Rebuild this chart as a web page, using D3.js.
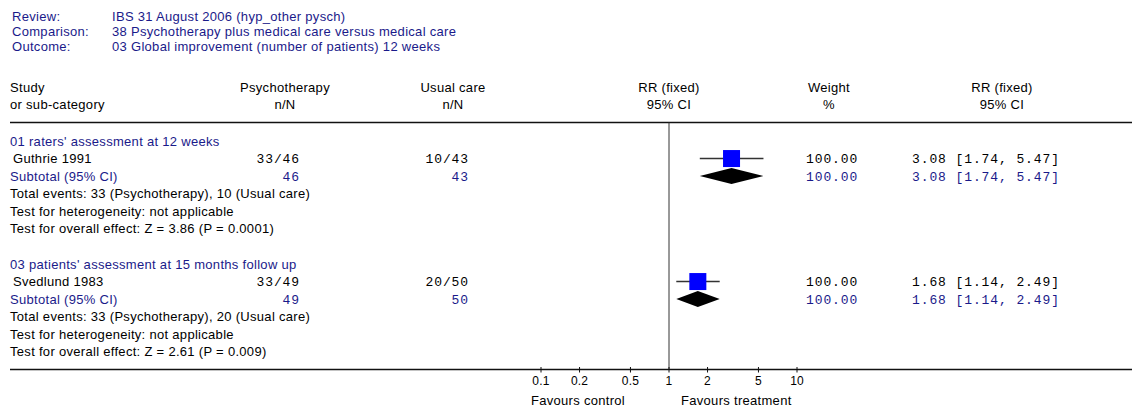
<!DOCTYPE html>
<html><head><meta charset="utf-8">
<script src="https://cdn.jsdelivr.net/npm/d3@7"></script>
<style>
body{margin:0;background:#fff;}
svg text{font-family:"Liberation Sans",Arial,sans-serif;font-size:13px;letter-spacing:0.3px;}
svg text.mono{font-family:"Liberation Mono","Courier New",monospace;font-size:13px;letter-spacing:0.9px;}
svg text.small{font-size:12px;letter-spacing:0.2px;}
</style></head>
<body><svg id="c" width="1140" height="414"></svg>
<script>
const titleLabels = ["Review:", "Comparison:", "Outcome:"];
const titleValues = ["IBS 31 August 2006 (hyp_other pysch)", "38 Psychotherapy plus medical care versus medical care", "03 Global improvement (number of patients) 12 weeks"];
const groupNames = ["01 raters' assessment at 12 weeks", "03 patients' assessment at 15 months follow up"];
const studyNames = ["Guthrie 1991", "Svedlund 1983"];
const treatEvents = [33, 33];
const treatTotal = [46, 49];
const ctrlEvents = [10, 20];
const ctrlTotal = [43, 50];
const rr = [3.08, 1.68];
const ciLow = [1.74, 1.14];
const ciHigh = [5.47, 2.49];
const weights = [100.00, 100.00];
const zTests = ["Z = 3.86 (P = 0.0001)", "Z = 2.61 (P = 0.009)"];
const axisTicks = [0.1, 0.2, 0.5, 1, 2, 5, 10];
const tickLabels = ["0.1", "0.2", "0.5", "1", "2", "5", "10"];

const NAVY = "#1a1a8a";
const svg = d3.select("#c");
const x = d3.scaleLog().domain([0.1, 10]).range([541, 797]);

// title block
titleLabels.forEach((t, i) => {
  const y = 16 + i * 15.3;
  svg.append("text").attr("x", 12).attr("y", y).attr("dy", "0.35em").attr("fill", NAVY).text(t);
  svg.append("text").attr("x", 112).attr("y", y).attr("dy", "0.35em").attr("fill", NAVY).text(titleValues[i]);
});

// column headers
const hdr = [
  {x: 10, a: "start", t: ["Study", "or sub-category"]},
  {x: 285, a: "middle", t: ["Psychotherapy", "n/N"]},
  {x: 453, a: "middle", t: ["Usual care", "n/N"]},
  {x: 669, a: "middle", t: ["RR (fixed)", "95% CI"]},
  {x: 829, a: "middle", t: ["Weight", "%"]},
  {x: 1002, a: "middle", t: ["RR (fixed)", "95% CI"]}
];
hdr.forEach(h => h.t.forEach((t, j) => {
  svg.append("text").attr("x", h.x).attr("y", 87 + j * 17.5).attr("dy", "0.35em")
    .attr("text-anchor", h.a).attr("fill", "#000").text(t);
}));

svg.append("line").attr("x1", 10).attr("x2", 1132).attr("y1", 122.5).attr("y2", 122.5)
  .attr("stroke", "#111").attr("stroke-width", 1.5);
svg.append("line").attr("x1", 10).attr("x2", 1132).attr("y1", 369.5).attr("y2", 369.5)
  .attr("stroke", "#111").attr("stroke-width", 1.5);
svg.append("line").attr("x1", x(1)).attr("x2", x(1)).attr("y1", 122.5).attr("y2", 369.5)
  .attr("stroke", "#333").attr("stroke-width", 1);

const step = 17.55;
const groupTop = [141, 264];
const fmt2 = d3.format(".2f");

groupNames.forEach((g, i) => {
  const y0 = groupTop[i];
  const yS = y0 + step, ySub = y0 + 2 * step;
  svg.append("text").attr("x", 10).attr("y", y0).attr("dy", "0.35em").attr("fill", NAVY).text(g);
  // study row
  svg.append("text").attr("x", 13).attr("y", yS).attr("dy", "0.35em").attr("fill", "#000").text(studyNames[i]);
  svg.append("text").attr("class", "mono").attr("x", 300).attr("y", yS).attr("dy", "0.35em")
    .attr("text-anchor", "end").attr("fill", "#000").text(treatEvents[i] + "/" + treatTotal[i]);
  svg.append("text").attr("class", "mono").attr("x", 469).attr("y", yS).attr("dy", "0.35em")
    .attr("text-anchor", "end").attr("fill", "#000").text(ctrlEvents[i] + "/" + ctrlTotal[i]);
  svg.append("text").attr("class", "mono").attr("x", 806).attr("y", yS).attr("dy", "0.35em")
    .attr("fill", "#000").text(fmt2(weights[i]));
  svg.append("text").attr("class", "mono").attr("x", 912).attr("y", yS).attr("dy", "0.35em")
    .attr("fill", "#000").text(`${fmt2(rr[i])} [${fmt2(ciLow[i])}, ${fmt2(ciHigh[i])}]`);
  // CI line + square
  svg.append("line").attr("x1", x(ciLow[i])).attr("x2", x(ciHigh[i])).attr("y1", yS).attr("y2", yS)
    .attr("stroke", "#333").attr("stroke-width", 1.5);
  const sq = 17;
  svg.append("rect").attr("x", x(rr[i]) - sq / 2).attr("y", yS - sq / 2).attr("width", sq).attr("height", sq)
    .attr("fill", "#0000ff");
  // subtotal row
  svg.append("text").attr("x", 10).attr("y", ySub).attr("dy", "0.35em").attr("fill", NAVY).text("Subtotal (95% CI)");
  svg.append("text").attr("class", "mono").attr("x", 300).attr("y", ySub).attr("dy", "0.35em")
    .attr("text-anchor", "end").attr("fill", NAVY).text(treatTotal[i]);
  svg.append("text").attr("class", "mono").attr("x", 469).attr("y", ySub).attr("dy", "0.35em")
    .attr("text-anchor", "end").attr("fill", NAVY).text(ctrlTotal[i]);
  svg.append("text").attr("class", "mono").attr("x", 806).attr("y", ySub).attr("dy", "0.35em")
    .attr("fill", NAVY).text(fmt2(weights[i]));
  svg.append("text").attr("class", "mono").attr("x", 912).attr("y", ySub).attr("dy", "0.35em")
    .attr("fill", NAVY).text(`${fmt2(rr[i])} [${fmt2(ciLow[i])}, ${fmt2(ciHigh[i])}]`);
  const h = 8;
  svg.append("path").attr("d",
    `M${x(ciLow[i])},${ySub} L${x(rr[i])},${ySub - h} L${x(ciHigh[i])},${ySub} L${x(rr[i])},${ySub + h} Z`)
    .attr("fill", "#000");
  // totals text
  const lines = [
    `Total events: ${treatEvents[i]} (Psychotherapy), ${ctrlEvents[i]} (Usual care)`,
    "Test for heterogeneity: not applicable",
    `Test for overall effect: ${zTests[i]}`
  ];
  lines.forEach((t, k) => {
    svg.append("text").attr("x", 10).attr("y", y0 + (3 + k) * step).attr("dy", "0.35em")
      .attr("fill", "#000").text(t);
  });
});

// axis
const ax = svg.append("g").attr("transform", "translate(0,369.5)");
ax.selectAll("line.tick").data(axisTicks).enter().append("line")
  .attr("x1", d => x(d)).attr("x2", d => x(d)).attr("y1", -2.5).attr("y2", 3)
  .attr("stroke", "#111").attr("stroke-width", 1);
ax.selectAll("text.tl").data(axisTicks).enter().append("text").attr("class", "small")
  .attr("x", d => x(d)).attr("y", 11.5).attr("dy", "0.35em").attr("text-anchor", "middle")
  .attr("fill", "#000").text((d, i) => tickLabels[i]);
svg.append("text").attr("x", 625).attr("y", 400).attr("dy", "0.35em").attr("text-anchor", "end")
  .attr("fill", "#000").text("Favours control");
svg.append("text").attr("x", 681).attr("y", 400).attr("dy", "0.35em").attr("text-anchor", "start")
  .attr("fill", "#000").text("Favours treatment");
</script></body></html>
